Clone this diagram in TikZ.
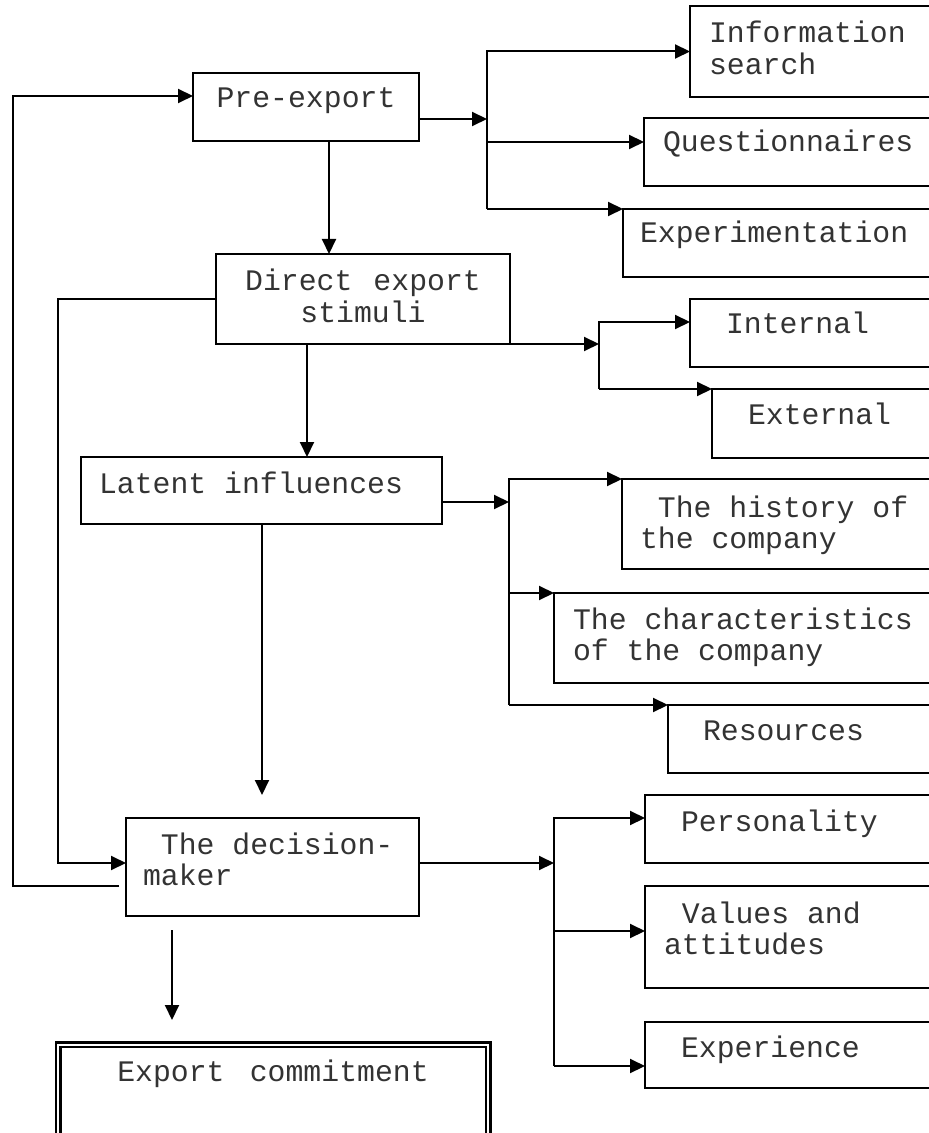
\documentclass[tikz,border=0pt]{standalone}
\usepackage{fontspec}
\newfontfamily\boxfont{Liberation Mono}
\usetikzlibrary{arrows.meta}

\begin{document}
\begin{tikzpicture}[x=0.5pt,y=-0.5pt,line width=1pt,
    box/.style={draw,rectangle,anchor=north west,outer sep=0pt,inner ysep=0pt,align=left,
      text=black!80,font=\fontsize{14.9}{15.75}\selectfont\boxfont,
      execute at begin node={\spaceskip=0pt\relax}},
    arr/.style={-{Triangle[length=7.5pt,width=7pt]}}]
  \useasboundingbox (0,0) rectangle (929,1133);
  \clip (0,0) rectangle (929,1133);

  \node[box,inner xsep=4pt,text width=105pt,align=center,text height=17.5pt,text depth=16.5pt] (pre) at (193,73) {Pre-export};
  \node[box,inner xsep=9.5pt,text width=111pt,text height=18.5pt,text depth=27pt] (info) at (690,6) {Information\\search};
  \node[box,inner xsep=9.5pt,text width=134pt,text height=17pt,text depth=17pt] (quest) at (644,118) {Questionnaires};
  \node[box,inner xsep=8.5pt,text width=146.5pt,text height=17pt,text depth=17pt] (exper) at (623,209) {Experimentation};
  \node[box,inner xsep=4pt,text width=139pt,align=center,text height=18.5pt,text depth=26.5pt] (direct) at (216,254) {Direct export\\stimuli};
  \node[box,inner xsep=18pt,text width=94pt,text height=17.5pt,text depth=16.5pt] (intern) at (690,299) {Internal};
  \node[box,inner xsep=18pt,text width=83pt,text height=17.5pt,text depth=17pt] (extern) at (712,389) {External};
  \node[box,inner xsep=9pt,text width=162.5pt,text height=18pt,text depth=15.5pt] (latent) at (81,457) {Latent influences};
  \node[box,inner xsep=9pt,text width=146pt,text height=19pt,text depth=26pt] (hist) at (622,479) {\hphantom{T}The history of\\the company};
  \node[box,inner xsep=9.5pt,text width=179pt,text height=18pt,text depth=27pt] (charac) at (554,593) {The characteristics\\of the company};
  \node[box,inner xsep=17.5pt,text width=106pt,text height=17.5pt,text depth=16.5pt] (resour) at (668,705) {Resources};
  \node[box,inner xsep=8.5pt,text width=129.5pt,text height=18pt,text depth=31pt] (decis) at (126,818) {\hphantom{T}The decision-\\maker};
  \node[box,inner xsep=18pt,text width=116.5pt,text height=18pt,text depth=16pt] (person) at (645,795) {Personality};
  \node[box,inner xsep=9.5pt,text width=133.5pt,text height=18.5pt,text depth=32.5pt] (values) at (645,886) {\hphantom{V}Values and\\attitudes};
  \node[box,inner xsep=18pt,text width=116.5pt,text height=17.5pt,text depth=15.5pt] (experi) at (645,1022) {Experience};
  \node[box,double,double distance=1pt,line width=1.25pt,inner xsep=5pt,text width=205pt,align=center,text height=18.25pt,text depth=27.5pt] (export) at (58,1044.5) {Export commitment};

  \coordinate (j1) at (487,119);
  \coordinate (j2) at (599,344);
  \coordinate (j3) at (509,502);
  \coordinate (j4) at (554,863);

  \draw[arr] (pre.south -| 329,0) -- (direct.north -| 329,0);
  \draw[arr] (direct.south -| 307,0) -- (latent.north -| 307,0);
  \draw[arr,shorten >=11.5pt] (latent.south -| 262,0) -- (decis.north -| 262,0);
  \draw[arr,shorten <=7pt,shorten >=12.25pt] (decis.south -| 172,0) -- (export.north -| 172,0);
  \draw[arr] (direct.west |- 0,299) -| (58,863) -- (decis.west |- 0,863);
  \draw[arr,shorten <=3.5pt] (decis.west |- 0,886) -| (13,96) -- (pre.west |- 0,96);

  \draw[arr] (pre.east |- j1) -- (j1);
  \draw[arr] (j1 |- exper.north west) |- (info.west);
  \draw[arr] (j1 |- 0,142) -- (quest.west |- 0,142);
  \draw[arr] (j1 |- exper.north west) -- (exper.north west);

  \draw[arr] (direct.south east) -- (j2);
  \draw[arr] (j2 |- extern.north west) |- (intern.west |- 0,322);
  \draw[arr] (j2 |- extern.north west) -- (extern.north west);

  \draw[arr] (latent.east |- j3) -- (j3);
  \draw[arr] (j3 |- resour.north west) |- (hist.north west);
  \draw[arr] (j3 |- charac.north west) -- (charac.north west);
  \draw[arr] (j3 |- resour.north west) -- (resour.north west);

  \draw[arr] (decis.east |- j4) -- (j4);
  \draw[arr] (j4 |- 0,1066) |- (person.west |- 0,818);
  \draw[arr] (j4 |- 0,931) -- (values.west |- 0,931);
  \draw[arr] (j4 |- 0,1066) -- (experi.west |- 0,1066);
\end{tikzpicture}
\end{document}
